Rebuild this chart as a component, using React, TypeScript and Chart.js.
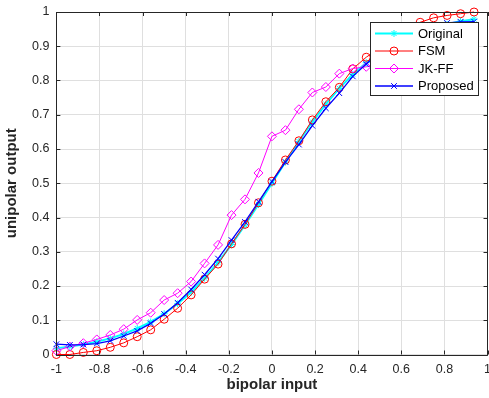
import React, { useEffect, useRef } from 'react';
import { Chart, registerables } from 'chart.js';

Chart.register(...registerables);

// ---- data ----
const xValues = [
  -1, -0.9375, -0.875, -0.8125, -0.75, -0.6875, -0.625, -0.5625,
  -0.5, -0.4375, -0.375, -0.3125, -0.25, -0.1875, -0.125, -0.0625,
  0, 0.0625, 0.125, 0.1875, 0.25, 0.3125, 0.375, 0.4375,
  0.5, 0.5625, 0.625, 0.6875, 0.75, 0.8125, 0.875, 0.9375,
];
const originalValues = [
  0.018, 0.023, 0.029, 0.037, 0.047, 0.06, 0.076, 0.095,
  0.119, 0.148, 0.182, 0.223, 0.269, 0.321, 0.378, 0.438,
  0.5, 0.562, 0.622, 0.679, 0.731, 0.777, 0.818, 0.852,
  0.881, 0.905, 0.924, 0.94, 0.953, 0.964, 0.973, 0.979,
];
const fsmValues = [
  0.0, 0.0, 0.006, 0.011, 0.021, 0.034, 0.052, 0.072,
  0.103, 0.135, 0.174, 0.22, 0.264, 0.323, 0.38, 0.443,
  0.506, 0.568, 0.624, 0.685, 0.738, 0.78, 0.834, 0.868,
  0.895, 0.93, 0.952, 0.97, 0.983, 0.99, 0.995, 1.0,
];
const jkffValues = [
  0.011, 0.023, 0.033, 0.044, 0.057, 0.074, 0.101, 0.122,
  0.159, 0.179, 0.213, 0.266, 0.32, 0.407, 0.453, 0.53,
  0.637, 0.655, 0.716, 0.765, 0.781, 0.82, 0.835, 0.84,
  0.845, 0.85, 0.85, 0.852, 0.855, 0.853, 0.855, 0.855,
];
const proposedValues = [
  0.03, 0.028, 0.029, 0.032, 0.04, 0.054, 0.069, 0.091,
  0.118, 0.151, 0.19, 0.233, 0.28, 0.334, 0.387, 0.446,
  0.505, 0.562, 0.613, 0.668, 0.719, 0.763, 0.812, 0.848,
  0.882, 0.909, 0.931, 0.946, 0.96, 0.968, 0.971, 0.972,
];
const seriesLabels = ['Original', 'FSM', 'JK-FF', 'Proposed'];
const xTickValues = [-1, -0.8, -0.6, -0.4, -0.2, 0, 0.2, 0.4, 0.6, 0.8, 1];
const yTickValues = [0, 0.1, 0.2, 0.3, 0.4, 0.5, 0.6, 0.7, 0.8, 0.9, 1];
const xTitle = 'bipolar input';
const yTitle = 'unipolar output';

const FONT = 'Arial, "Liberation Sans", Helvetica, sans-serif';
const AXIS_COLOR = '#262626';

type Style = 'star' | 'circle' | 'rectRot' | 'crossRot';
const seriesStyles: { color: string; marker: Style; radius: number; width: number }[] = [
  { color: '#00ffff', marker: 'star', radius: 3.5, width: 2 },
  { color: '#ff0000', marker: 'circle', radius: 4, width: 1 },
  { color: '#ff00ff', marker: 'rectRot', radius: 4.5, width: 1 },
  { color: '#0000ff', marker: 'crossRot', radius: 4, width: 1.3 },
];

function drawMarker(ctx: CanvasRenderingContext2D, style: Style, x: number, y: number, r: number) {
  ctx.beginPath();
  const d = r * Math.SQRT1_2;
  if (style === 'circle') {
    ctx.arc(x, y, r, 0, Math.PI * 2);
  } else if (style === 'rectRot') {
    ctx.moveTo(x, y - r);
    ctx.lineTo(x + r, y);
    ctx.lineTo(x, y + r);
    ctx.lineTo(x - r, y);
    ctx.closePath();
  } else if (style === 'crossRot') {
    ctx.moveTo(x - d, y - d);
    ctx.lineTo(x + d, y + d);
    ctx.moveTo(x + d, y - d);
    ctx.lineTo(x - d, y + d);
  } else {
    ctx.moveTo(x - d, y - d);
    ctx.lineTo(x + d, y + d);
    ctx.moveTo(x + d, y - d);
    ctx.lineTo(x - d, y + d);
    ctx.moveTo(x, y - r);
    ctx.lineTo(x, y + r);
    ctx.moveTo(x - r, y);
    ctx.lineTo(x + r, y);
  }
  ctx.stroke();
}

const framePlugin = {
  id: 'frameAndLegend',
  afterDraw(chart: any) {
    const ctx: CanvasRenderingContext2D = chart.ctx;
    const { left, right, top, bottom } = chart.chartArea;
    const xs = chart.scales.x;
    const ys = chart.scales.y;
    ctx.save();
    // frame
    ctx.strokeStyle = AXIS_COLOR;
    ctx.lineWidth = 1;
    ctx.beginPath();
    ctx.rect(Math.round(left) + 0.5, Math.round(top) + 0.5, Math.round(right - left), Math.round(bottom - top));
    ctx.stroke();
    // inward ticks
    const tl = 4;
    ctx.beginPath();
    xTickValues.forEach((v) => {
      const px = Math.round(xs.getPixelForValue(v)) + 0.5;
      ctx.moveTo(px, bottom);
      ctx.lineTo(px, bottom - tl);
      ctx.moveTo(px, top);
      ctx.lineTo(px, top + tl);
    });
    yTickValues.forEach((v) => {
      const py = Math.round(ys.getPixelForValue(v)) + 0.5;
      ctx.moveTo(left, py);
      ctx.lineTo(left + tl, py);
      ctx.moveTo(right, py);
      ctx.lineTo(right - tl, py);
    });
    ctx.stroke();

    // legend
    const lx = 370.5, ly = 22.5, lw = 108, lh = 73;
    ctx.fillStyle = '#ffffff';
    ctx.fillRect(lx, ly, lw, lh);
    ctx.strokeStyle = AXIS_COLOR;
    ctx.lineWidth = 1;
    ctx.strokeRect(lx, ly, lw, lh);
    ctx.font = '13px ' + FONT;
    ctx.textBaseline = 'middle';
    ctx.textAlign = 'left';
    const rowY = [33.5, 51, 68.5, 86];
    seriesLabels.forEach((label, i) => {
      const st = seriesStyles[i];
      const y = rowY[i];
      ctx.strokeStyle = st.color;
      ctx.lineWidth = st.width;
      ctx.beginPath();
      ctx.moveTo(375, y);
      ctx.lineTo(413, y);
      ctx.stroke();
      ctx.lineWidth = 1;
      drawMarker(ctx, st.marker, 394, y, st.radius);
      ctx.fillStyle = '#000000';
      ctx.fillText(label, 418, y + 0.5);
    });
    ctx.restore();
  },
};

function makeDataset(i: number, values: number[]) {
  const st = seriesStyles[i];
  return {
    label: seriesLabels[i],
    data: xValues.map((x, k) => ({ x, y: values[k] })),
    borderColor: st.color,
    borderWidth: st.width,
    pointStyle: st.marker,
    pointRadius: st.radius,
    pointBorderWidth: 1,
    pointBorderColor: st.color,
    pointBackgroundColor: 'rgba(0,0,0,0)',
    fill: false,
    tension: 0,
    clip: false as any,
    order: 4 - i,
  };
}

export default function App() {
  const ref = useRef<HTMLCanvasElement | null>(null);
  useEffect(() => {
    if (!ref.current) return;
    const chart = new Chart(ref.current, {
      type: 'line',
      data: {
        datasets: [
          makeDataset(0, originalValues),
          makeDataset(1, fsmValues),
          makeDataset(2, jkffValues),
          makeDataset(3, proposedValues),
        ],
      },
      options: {
        animation: false,
        responsive: false,
        devicePixelRatio: 1,
        layout: { padding: { left: 0, right: 12, top: 12, bottom: 0 } },
        plugins: { legend: { display: false }, tooltip: { enabled: false } },
        scales: {
          x: {
            type: 'linear',
            min: -1,
            max: 1,
            afterBuildTicks: (s: any) => {
              s.ticks = xTickValues.map((v) => ({ value: v }));
            },
            ticks: {
              color: AXIS_COLOR,
              font: { family: FONT, size: 12.5, lineHeight: 1 },
              padding: 9,
              maxRotation: 0,
              autoSkip: false,
              callback: (v: any) => String(Math.round(Number(v) * 10) / 10),
            },
            grid: { color: '#dfdfdf', drawTicks: false, lineWidth: 1 },
            border: { display: false },
            title: {
              display: true,
              text: xTitle,
              color: AXIS_COLOR,
              font: { family: FONT, size: 15, weight: 'bold', lineHeight: 1.2 },
              padding: { top: -9, bottom: 4 },
            },
          },
          y: {
            type: 'linear',
            min: 0,
            max: 1,
            afterBuildTicks: (s: any) => {
              s.ticks = yTickValues.map((v) => ({ value: v }));
            },
            ticks: {
              color: AXIS_COLOR,
              font: { family: FONT, size: 12.5, lineHeight: 0.8 },
              padding: 7,
              autoSkip: false,
              callback: (v: any) => String(Math.round(Number(v) * 10) / 10),
            },
            grid: { color: '#dfdfdf', drawTicks: false, lineWidth: 1 },
            border: { display: false },
            title: {
              display: true,
              text: yTitle,
              color: AXIS_COLOR,
              font: { family: FONT, size: 15, weight: 'bold', lineHeight: 1.2 },
              padding: { top: 3, bottom: 4 },
            },
          },
        },
      },
      plugins: [framePlugin],
    } as any);
    return () => chart.destroy();
  }, []);
  return (
    <div style={{ position: 'fixed', left: 0, top: 0, width: 489, height: 398, overflow: 'hidden', background: '#fff' }}>
      <canvas ref={ref} width={500} height={398} style={{ width: 500, height: 398, display: 'block' }} />
    </div>
  );
}
